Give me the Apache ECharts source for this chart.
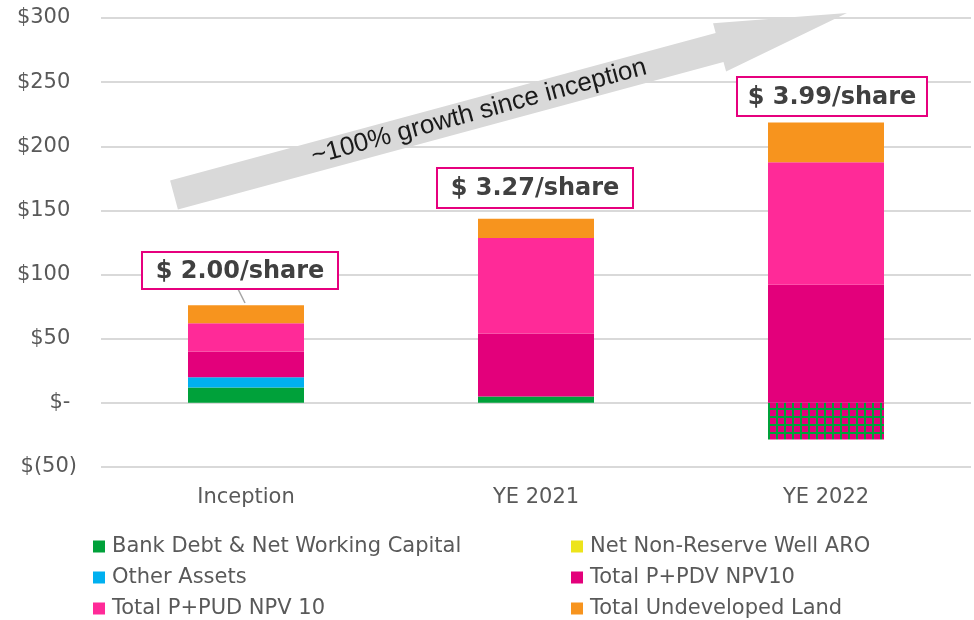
<!DOCTYPE html>
<html>
<head>
<meta charset="utf-8">
<title>NAV per share</title>
<script src="https://cdn.jsdelivr.net/npm/echarts/dist/echarts.min.js"></script>
<style>
  html, body { margin: 0; padding: 0; background: #fff; }
  #chart { width: 974px; height: 620px; }
</style>
</head>
<body>
<div id="chart"></div>
<script>
// categories and stacked values ($MM), bottom to top
var categories = ['Inception', 'YE 2021', 'YE 2022'];
var bankDebt = [12, 5, -28.5];
var otherAssets = [8, 0, 0];
var nonReserveAro = [0, 0, 0];
var pdvNpv10 = [20, 49, 92];
var pudNpv10 = [22, 74.5, 95.5];
var undevelopedLand = [14, 15, 31];
var perShare = ['$ 2.00/share', '$ 3.27/share', '$ 3.99/share'];
var yTicks = { min: -50, max: 300, step: 50 };

var FONT = 'DejaVu Sans';
var GREY = '#595959';

// hatched fill for the negative bank debt block
function gridPattern() {
  var c = document.createElement('canvas');
  c.width = 8; c.height = 8;
  var g = c.getContext('2d');
  g.fillStyle = '#E3007B';
  g.fillRect(0, 0, 8, 8);
  g.fillStyle = '#00A13A';
  g.fillRect(0, 0, 8, 2);
  g.fillRect(0, 0, 2, 8);
  return c;
}

function bar(name, data, color) {
  return {
    name: name,
    type: 'bar',
    stack: 'nav',
    barWidth: '40%',
    itemStyle: { color: color },
    data: data.map(function (v) {
      if (v < 0) {
        return { value: v, itemStyle: { color: { image: gridPattern(), repeat: 'repeat' } } };
      }
      return v;
    })
  };
}

function money(v) {
  if (v < 0) return '$(' + (-v) + ')';
  if (v === 0) return '$- ';
  return '$' + v + ' ';
}

// big grey arrow along the growth direction
var S = [174, 195], T = [847, 13];
var len = Math.hypot(T[0] - S[0], T[1] - S[1]);
var u = [(T[0] - S[0]) / len, (T[1] - S[1]) / len];
var n = [-u[1], u[0]];
var B = [T[0] - 132 * u[0], T[1] - 132 * u[1]];
function off(p, k) { return [p[0] + k * n[0], p[1] + k * n[1]]; }
var arrowPts = [off(S, -15), off(B, -15), off(B, -25), T, off(B, 25), off(B, 15), off(S, 15)];
var angle = Math.atan2(-(T[1] - S[1]), T[0] - S[0]);

function shareBox(x, y, w, h, txt) {
  return {
    type: 'group',
    z: 100,
    children: [
      { type: 'rect', z: 100, shape: { x: x, y: y, width: w, height: h },
        style: { fill: '#fff', stroke: '#E6007E', lineWidth: 2 } },
      { type: 'text', z: 101, x: x + w / 2, y: y + h / 2 + 1,
        style: { text: txt, fill: '#404040', font: 'bold 24px "DejaVu Sans"',
                 align: 'center', verticalAlign: 'middle' } }
    ]
  };
}

var chart = echarts.init(document.getElementById('chart'));
chart.setOption({
  animation: false,
  grid: { left: 101, right: 3, top: 18, bottom: 153 },
  xAxis: {
    type: 'category',
    data: categories,
    axisLine: { show: false, onZero: false },
    axisTick: { show: false },
    axisLabel: { color: GREY, fontSize: 21, fontFamily: FONT, margin: 20 }
  },
  yAxis: {
    type: 'value',
    min: yTicks.min, max: yTicks.max, interval: yTicks.step,
    axisLine: { show: false },
    axisTick: { show: false },
    splitLine: { lineStyle: { color: '#D9D9D9', width: 2 } },
    axisLabel: { color: GREY, fontSize: 21, fontFamily: FONT, margin: 24, formatter: money }
  },
  legend: [
    {
      orient: 'vertical', left: 93, top: 536, padding: 0, itemGap: 10,
      itemWidth: 12, itemHeight: 12, icon: 'rect',
      textStyle: { color: GREY, fontSize: 21, fontFamily: FONT, padding: [0, 0, 0, 2] },
      data: ['Bank Debt & Net Working Capital', 'Other Assets', 'Total P+PUD NPV 10']
    },
    {
      orient: 'vertical', left: 571, top: 536, padding: 0, itemGap: 10,
      itemWidth: 12, itemHeight: 12, icon: 'rect',
      textStyle: { color: GREY, fontSize: 21, fontFamily: FONT, padding: [0, 0, 0, 2] },
      data: ['Net Non-Reserve Well ARO', 'Total P+PDV NPV10', 'Total Undeveloped Land']
    }
  ],
  series: [
    bar('Bank Debt & Net Working Capital', bankDebt, '#00A13A'),
    bar('Other Assets', otherAssets, '#00B0F0'),
    bar('Net Non-Reserve Well ARO', nonReserveAro, '#EDE41B'),
    bar('Total P+PDV NPV10', pdvNpv10, '#E3007B'),
    bar('Total P+PUD NPV 10', pudNpv10, '#FF2A98'),
    bar('Total Undeveloped Land', undevelopedLand, '#F7941E')
  ],
  graphic: [
    { type: 'polygon', z: 100, shape: { points: arrowPts }, style: { fill: '#D9D9D9' } },
    { type: 'text', z: 101, x: 479, y: 112, rotation: angle,
      style: { text: '~100% growth since inception', fill: '#1a1a1a',
               font: '26px "Liberation Sans"', align: 'center', verticalAlign: 'middle' } },
    { type: 'line', z: 100, shape: { x1: 238, y1: 289, x2: 245, y2: 303 },
      style: { stroke: '#A6A6A6', lineWidth: 1.5 } },
    shareBox(142, 252, 196, 37, perShare[0]),
    shareBox(437, 168, 196, 40, perShare[1]),
    shareBox(737, 77, 190, 39, perShare[2])
  ]
});
</script>
</body>
</html>
